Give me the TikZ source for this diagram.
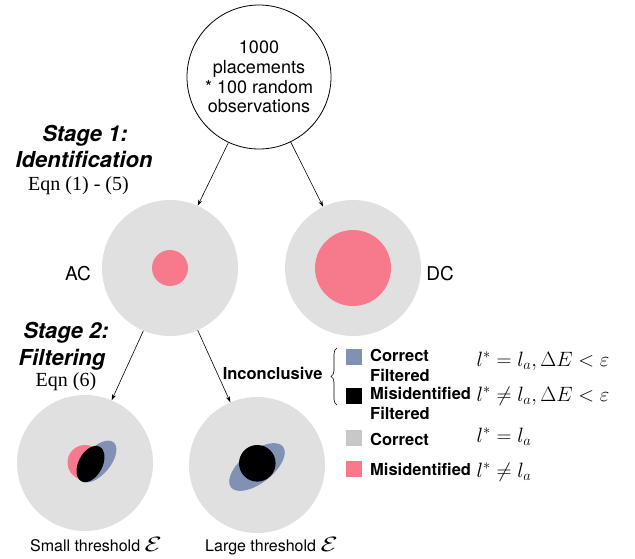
\documentclass[tikz,border=0pt]{standalone}
\usepackage{amsmath,amssymb}
\usepackage{fontspec}
\setmainfont{Liberation Serif}
\setsansfont{TeX Gyre Heros}
\usetikzlibrary{arrows.meta,positioning,shapes.geometric,decorations.pathreplacing}
\definecolor{discgray}{HTML}{E0E0E0}
\definecolor{boxgray}{HTML}{C8C8C8}
\definecolor{wrongpink}{HTML}{F77A8C}
\definecolor{filtblue}{HTML}{8191B3}
\newcommand{\thrsym}{{\fontsize{19.5}{20}\selectfont\scalebox{1.35}[1]{$\mathcal{E}$}}}

\begin{document}
\begin{tikzpicture}[x=1pt,y=-1pt,
    disc/.style={circle,fill=discgray,minimum size=136pt,inner sep=0pt},
    dot/.style={circle,inner sep=0pt},
    blob/.style={ellipse,inner sep=0pt},
    legbox/.style={minimum size=16pt,inner sep=0pt},
    lab/.style={font=\sffamily\fontsize{16.5}{20}\selectfont\bfseries},
    plain/.style={font=\sffamily\fontsize{16}{19}\selectfont},
    stage/.style={font=\sffamily\fontsize{22}{26}\selectfont\bfseries\itshape},
    eqn/.style={font=\fontsize{20}{24}\selectfont},
    arr/.style={-{Stealth[length=6pt,width=4pt]},line width=0.6pt}]
  \useasboundingbox (0,0) rectangle (635,558);
  % source
  \node[circle,draw,line width=0.8pt,minimum size=144pt,inner sep=0pt,align=center,
        font=\sffamily\fontsize{18}{19.7}\selectfont] (obs) at (259,77)
        {1000\\placements\\* 100 random\\observations};
  % stage 1
  \node[disc] (ac) at (170,268) {};
  \node[dot,fill=wrongpink,minimum size=36pt] (acw) at (ac) {};
  \node[disc] (dc) at (353,268) {};
  \node[dot,fill=wrongpink,minimum size=76pt] (dcw) at (dc) {};
  \node[plain,font=\sffamily\fontsize{19}{22}\selectfont,anchor=base] (aclab) at (78,280) {AC};
  \node[plain,font=\sffamily\fontsize{19}{22}\selectfont,anchor=base] (dclab) at (440,280) {DC};
  \draw[arr] (obs.-115) -- (ac.66);
  \draw[arr] (obs.-64) -- (dc.116);
  \node[stage,anchor=base] (st1a) at (85,141) {Stage 1:};
  \node[stage,anchor=base] (st1b) at (84,167) {Identification};
  \node[eqn,anchor=base] (eq1) at (78.5,190) {Eqn (1) - (5)};
  % stage 2
  \node[disc] (sm) at (85,463) {};
  \node[dot,fill=wrongpink,minimum size=35pt] (smw) at (85,462.5) {};
  \node[blob,fill=filtblue,minimum width=50pt,minimum height=26pt,rotate=50] (smb) at (97.5,461.5) {};
  \node[blob,fill=black,minimum width=39pt,minimum height=24pt,rotate=62] (smk) at (90.5,464) {};
  \node[disc] (lg) at (257,465) {};
  \node[blob,fill=filtblue,minimum width=66pt,minimum height=32pt,rotate=38] (lgb) at (257,467) {};
  \node[dot,fill=black,minimum size=36.6pt] (lgk) at (257.3,463.3) {};
  \draw[arr] (ac.-113) -- (sm.67);
  \draw[arr] (ac.-66) -- (lg.113);
  \node[stage,anchor=base] (st2a) at (66,338) {Stage 2:};
  \node[stage,anchor=base] (st2b) at (62,365) {Filtering};
  \node[eqn,anchor=base] (eq2) at (66,386) {Eqn (6)};
  \node[plain,anchor=base] (smlab) at (96,551) {Small threshold \thrsym};
  \node[plain,anchor=base] (lglab) at (271.5,551) {Large threshold \thrsym};
  % legend
  \node[lab,anchor=base east] (inc) at (326,379) {Inconclusive};
  \coordinate (brbot) at (337,405);
  \coordinate (brtop) at (337,348);
  \draw[line width=0.6pt,decorate,decoration={brace,amplitude=6pt}] (brbot) -- (brtop);
  \node[legbox,fill=filtblue] (k1) at (354,356.5) {};
  \node[legbox,fill=black] (k2) at (354,396) {};
  \node[legbox,fill=boxgray] (k3) at (354,437.5) {};
  \node[legbox,fill=wrongpink] (k4) at (354,468.5) {};
  \node[lab,anchor=base west,inner sep=0pt] (t1) at (370,361) {Correct};
  \node[lab,anchor=base west,inner sep=0pt] (t1b) at (370,381) {Filtered};
  \node[lab,anchor=base west,inner sep=0pt] (t2) at (370,399) {Misidentified};
  \node[lab,anchor=base west,inner sep=0pt] (t2b) at (370,419) {Filtered};
  \node[lab,anchor=base west,inner sep=0pt] (t3) at (370,445) {Correct};
  \node[lab,anchor=base west,inner sep=0pt] (t4) at (370,475) {Misidentified};
  \node[eqn,anchor=base west,inner sep=0pt] (m1) at (476.5,366) {$l^*=l_a,\Delta E<\varepsilon$};
  \node[eqn,anchor=base west,inner sep=0pt] (m2) at (476.5,401) {$l^*\neq l_a,\Delta E<\varepsilon$};
  \node[eqn,anchor=base west,inner sep=0pt] (m3) at (476.5,442) {$l^*=l_a$};
  \node[eqn,anchor=base west,inner sep=0pt] (m4) at (476.5,477) {$l^*\neq l_a$};
\end{tikzpicture}
\end{document}
